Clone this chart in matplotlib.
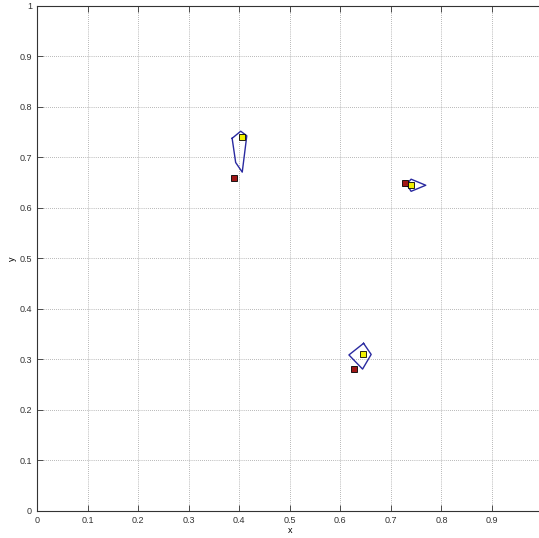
import matplotlib
matplotlib.use('Agg')
import matplotlib.pyplot as plt

# polygon outlines (closed)
poly1_x = [0.386, 0.403, 0.415, 0.406, 0.393, 0.386]
poly1_y = [0.738, 0.752, 0.743, 0.671, 0.690, 0.738]
poly2_x = [0.646, 0.661, 0.644, 0.617, 0.646]
poly2_y = [0.332, 0.310, 0.281, 0.309, 0.332]
poly3_x = [0.731, 0.740, 0.769, 0.740, 0.731]
poly3_y = [0.647, 0.657, 0.645, 0.633, 0.647]

# estimated points (yellow) and true points (red)
yellow_x = [0.405, 0.644, 0.740]
yellow_y = [0.740, 0.311, 0.646]
red_x = [0.390, 0.628, 0.727]
red_y = [0.659, 0.281, 0.650]

xticks = [0, 0.1, 0.2, 0.3, 0.4, 0.5, 0.6, 0.7, 0.8, 0.9]
yticks = [0, 0.1, 0.2, 0.3, 0.4, 0.5, 0.6, 0.7, 0.8, 0.9, 1]

plt.rcParams['font.family'] = ['Liberation Sans', 'DejaVu Sans']

fig = plt.figure(figsize=(5.39, 5.38), dpi=100)
ax = fig.add_axes([0.0686, 0.0502, 0.938, 0.9387])

for px, py in [(poly1_x, poly1_y), (poly2_x, poly2_y), (poly3_x, poly3_y)]:
    ax.plot(px, py, color='#2a2aa0', linewidth=1.0)

ax.plot(red_x, red_y, 's', markersize=4, markerfacecolor='#a01818',
        markeredgecolor='black', markeredgewidth=0.6, linestyle='none')
ax.plot(yellow_x, yellow_y, 's', markersize=4, markerfacecolor='#f0f000',
        markeredgecolor='black', markeredgewidth=0.6, linestyle='none')

ax.set_xlim(0, 1)
ax.set_ylim(0, 1)
ax.set_xticks(xticks)
ax.set_yticks(yticks)
ax.set_xticklabels(['0', '0.1', '0.2', '0.3', '0.4', '0.5', '0.6', '0.7', '0.8', '0.9'])
ax.set_yticklabels(['0', '0.1', '0.2', '0.3', '0.4', '0.5', '0.6', '0.7', '0.8', '0.9', '1'])
ax.tick_params(direction='in', labelsize=6.5, length=4, width=0.6, colors='#333333',
               top=True, right=False)
ax.grid(True, linestyle=(0, (1, 2)), color='#777777', linewidth=0.5)
for s in ax.spines.values():
    s.set_linewidth(0.8)
    s.set_color('#333333')
# the right edge of the box lies outside the picture
ax.spines['right'].set_visible(False)

ax.set_xlabel('x', fontsize=6.5, labelpad=1)
ax.set_ylabel('y', fontsize=6.5, labelpad=2)

fig.savefig('out.png', dpi=100)
